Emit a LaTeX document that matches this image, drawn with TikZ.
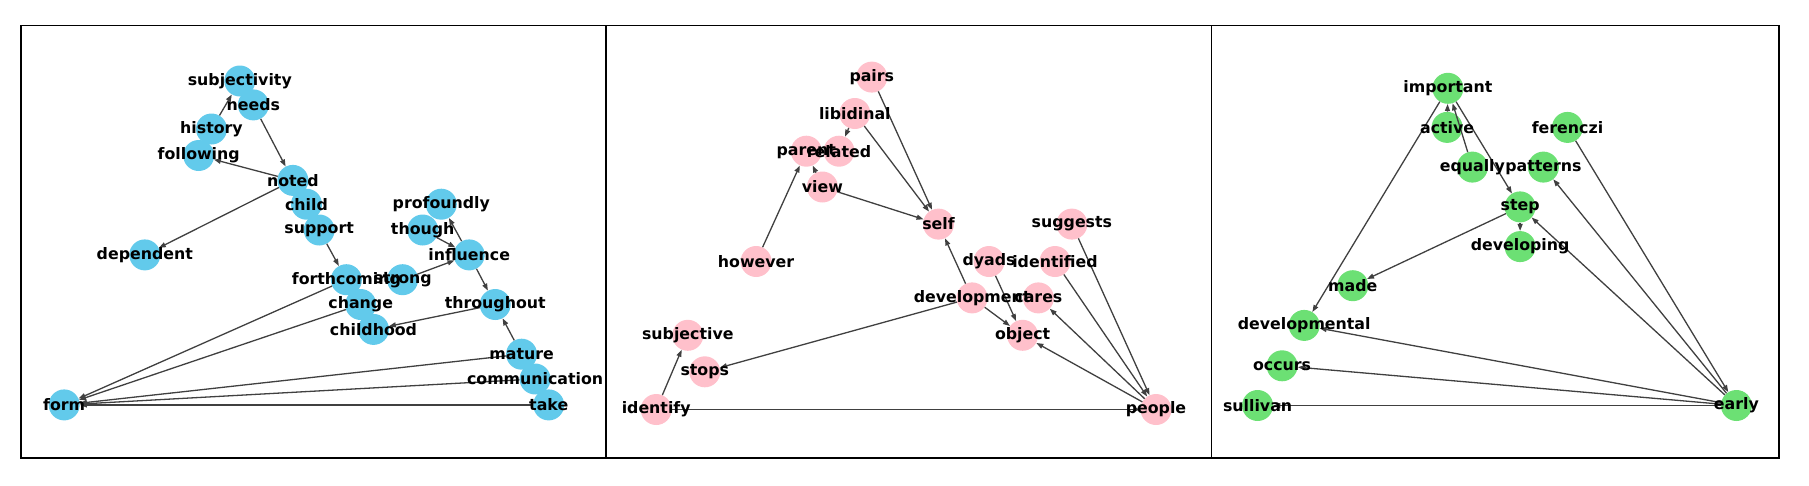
\documentclass[tikz,border=0pt]{standalone}
\usepackage{fontspec}
\setsansfont{DejaVu Sans}
\usetikzlibrary{arrows.meta}
\definecolor{nodeblue}{RGB}{98,202,235}
\definecolor{nodepink}{RGB}{255,192,203}
\definecolor{nodegreen}{RGB}{108,224,116}
\begin{document}
\begin{tikzpicture}[x=1pt,y=-1pt,
  bn/.style={circle,fill=nodeblue,minimum size=31pt,inner sep=0pt},
  pn/.style={circle,fill=nodepink,minimum size=31pt,inner sep=0pt},
  gn/.style={circle,fill=nodegreen,minimum size=31pt,inner sep=0pt},
  word/.style={inner sep=0pt,font=\sffamily\bfseries\fontsize{15.8}{19}\selectfont},
  edge/.style={draw=black!75,line width=1.3pt,-{Triangle[length=7pt,width=5pt]}},
  frame/.style={draw=black,line width=1.6pt}]
\useasboundingbox (0,0) rectangle (1809,485);
% left panel
\begin{scope}
\clip (20.8,25.4) rectangle (605.7,458);
\node[bn] (subjectivity) at (239.8,81.0) {};
\node[bn] (needs) at (253.4,104.9) {};
\node[bn] (history) at (211.5,129.0) {};
\node[bn] (following) at (198.7,155.5) {};
\node[bn] (noted) at (292.9,180.4) {};
\node[bn] (child) at (306.5,204.2) {};
\node[bn] (support) at (319.2,230.0) {};
\node[bn] (dependent) at (144.8,254.9) {};
\node[bn] (profoundly) at (441.3,204.2) {};
\node[bn] (though) at (422.7,230.0) {};
\node[bn] (influence) at (469.2,254.9) {};
\node[bn] (forthcoming) at (346.4,279.7) {};
\node[bn] (strong) at (402.6,279.7) {};
\node[bn] (change) at (360.7,304.5) {};
\node[bn] (throughout) at (495.2,304.5) {};
\node[bn] (childhood) at (373.5,329.4) {};
\node[bn] (mature) at (521.6,354.2) {};
\node[bn] (communication) at (535.1,379.0) {};
\node[bn] (take) at (548.7,404.9) {};
\node[bn] (form) at (64.2,404.9) {};
\draw[edge] (history) -- (subjectivity);
\draw[edge] (needs) -- (noted);
\draw[edge] (noted) -- (following);
\draw[edge] (noted) -- (dependent);
\draw[edge] (support) -- (forthcoming);
\draw[edge] (though) -- (influence);
\draw[edge] (strong) -- (influence);
\draw[edge] (influence) -- (profoundly);
\draw[edge] (influence) -- (throughout);
\draw[edge] (mature) -- (throughout);
\draw[edge] (throughout) -- (childhood);
\draw[edge] (forthcoming) -- (form);
\draw[edge] (change) -- (form);
\draw[edge] (mature) -- (form);
\draw[edge] (communication) -- (form);
\draw[edge] (take) -- (form);
\node[word] (subjectivity-w) at (subjectivity) {subjectivity};
\node[word] (needs-w) at (needs) {needs};
\node[word] (history-w) at (history) {history};
\node[word] (following-w) at (following) {following};
\node[word] (noted-w) at (noted) {noted};
\node[word] (child-w) at (child) {child};
\node[word] (support-w) at (support) {support};
\node[word] (dependent-w) at (dependent) {dependent};
\node[word] (profoundly-w) at (profoundly) {profoundly};
\node[word] (though-w) at (though) {though};
\node[word] (influence-w) at (influence) {influence};
\node[word] (forthcoming-w) at (forthcoming) {forthcoming};
\node[word] (strong-w) at (strong) {strong};
\node[word] (change-w) at (change) {change};
\node[word] (throughout-w) at (throughout) {throughout};
\node[word] (childhood-w) at (childhood) {childhood};
\node[word] (mature-w) at (mature) {mature};
\node[word] (communication-w) at (communication) {communication};
\node[word] (take-w) at (take) {take};
\node[word] (form-w) at (form) {form};
\end{scope}
% middle panel
\node[pn] (pairs) at (871.8,77.1) {};
\node[pn] (libidinal) at (854.8,113.5) {};
\node[pn] (parent) at (806.3,151.2) {};
\node[pn] (related) at (839.0,151.2) {};
\node[pn] (view) at (822.4,187.0) {};
\node[pn] (self) at (938.5,224.1) {};
\node[pn] (suggests) at (1071.9,224.1) {};
\node[pn] (however) at (756.1,261.5) {};
\node[pn] (dyads) at (989.0,261.5) {};
\node[pn] (identified) at (1055.0,261.5) {};
\node[pn] (development) at (972.1,297.9) {};
\node[pn] (cares) at (1038.4,297.9) {};
\node[pn] (object) at (1022.6,335.3) {};
\node[pn] (subjective) at (687.8,335.3) {};
\node[pn] (stops) at (704.8,371.8) {};
\node[pn] (identify) at (656.2,409.5) {};
\node[pn] (people) at (1156.0,409.5) {};
\draw[edge] (libidinal) -- (related);
\draw[edge] (view) -- (parent);
\draw[edge] (however) -- (parent);
\draw[edge] (libidinal) -- (self);
\draw[edge] (pairs) -- (self);
\draw[edge] (view) -- (self);
\draw[edge] (development) -- (self);
\draw[edge] (development) -- (object);
\draw[edge] (dyads) -- (object);
\draw[edge] (development) -- (stops);
\draw[edge] (identify) -- (subjective);
\draw[edge] (identify) -- (people);
\draw[edge] (people) -- (object);
\draw[edge] (people) -- (cares);
\draw[edge] (identified) -- (people);
\draw[edge] (suggests) -- (people);
\node[word] (pairs-w) at (pairs) {pairs};
\node[word] (libidinal-w) at (libidinal) {libidinal};
\node[word] (parent-w) at (parent) {parent};
\node[word] (related-w) at (related) {related};
\node[word] (view-w) at (view) {view};
\node[word] (self-w) at (self) {self};
\node[word] (suggests-w) at (suggests) {suggests};
\node[word] (however-w) at (however) {however};
\node[word] (dyads-w) at (dyads) {dyads};
\node[word] (identified-w) at (identified) {identified};
\node[word] (development-w) at (development) {development};
\node[word] (cares-w) at (cares) {cares};
\node[word] (object-w) at (object) {object};
\node[word] (subjective-w) at (subjective) {subjective};
\node[word] (stops-w) at (stops) {stops};
\node[word] (identify-w) at (identify) {identify};
\node[word] (people-w) at (people) {people};
% right panel
\node[gn] (important) at (1447.9,88.3) {};
\node[gn] (active) at (1447.1,127.4) {};
\node[gn] (ferenczi) at (1567.5,127.4) {};
\node[gn] (equally) at (1472.4,167.1) {};
\node[gn] (patterns) at (1543.4,167.1) {};
\node[gn] (step) at (1520.1,206.9) {};
\node[gn] (developing) at (1520.1,246.6) {};
\node[gn] (made) at (1352.8,285.7) {};
\node[gn] (developmental) at (1304.2,325.4) {};
\node[gn] (occurs) at (1282.1,365.8) {};
\node[gn] (sullivan) at (1257.6,405.5) {};
\node[gn] (early) at (1736.4,405.5) {};
\draw[edge] (active) -- (important);
\draw[edge] (equally) -- (important);
\draw[edge] (important) -- (step);
\draw[edge] (important) -- (developmental);
\draw[edge] (step) -- (developing);
\draw[edge] (step) -- (made);
\draw[edge] (early) -- (step);
\draw[edge] (early) -- (patterns);
\draw[edge] (ferenczi) -- (early);
\draw[edge] (early) -- (developmental);
\draw[edge] (early) -- (occurs);
\draw[edge] (early) -- (sullivan);
\node[word] (important-w) at (important) {important};
\node[word] (active-w) at (active) {active};
\node[word] (ferenczi-w) at (ferenczi) {ferenczi};
\node[word] (equally-w) at (equally) {equally};
\node[word] (patterns-w) at (patterns) {patterns};
\node[word] (step-w) at (step) {step};
\node[word] (developing-w) at (developing) {developing};
\node[word] (made-w) at (made) {made};
\node[word] (developmental-w) at (developmental) {developmental};
\node[word] (occurs-w) at (occurs) {occurs};
\node[word] (sullivan-w) at (sullivan) {sullivan};
\node[word] (early-w) at (early) {early};
% frames
\draw[frame] (20.8,25.4) rectangle (605.7,458);
\draw[frame] (605.7,25.4) rectangle (1211.4,458);
\draw[frame] (1211.4,25.4) rectangle (1779,458);
\end{tikzpicture}
\end{document}
